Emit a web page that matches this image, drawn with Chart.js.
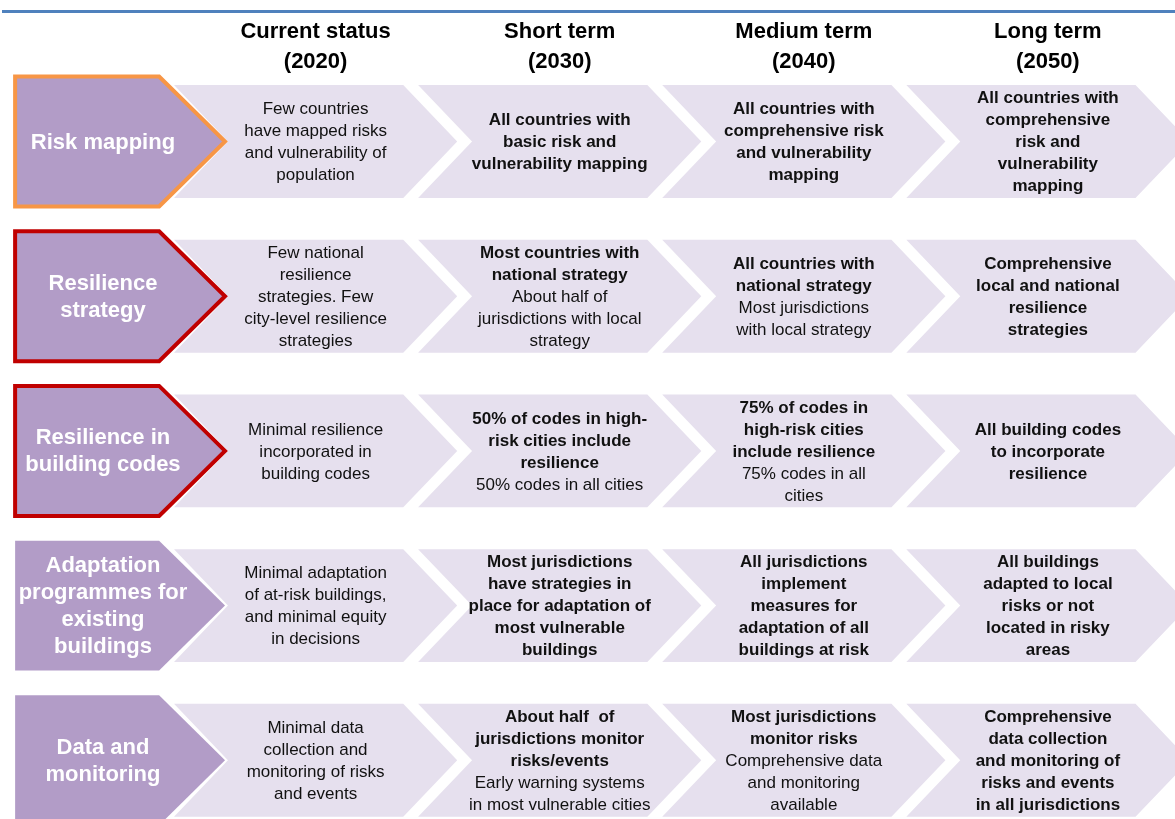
<!DOCTYPE html>
<html>
<head>
<meta charset="utf-8">
<script src="https://cdn.jsdelivr.net/npm/chart.js@4.4.1/dist/chart.umd.min.js"></script>
<style>
html,body{margin:0;padding:0;background:#ffffff;}
#wrap{width:1175px;height:819px;position:relative;}
</style>
</head>
<body>
<div id="wrap"><canvas id="c" width="1175" height="819"></canvas></div>
<script>
// ---------- DATA ----------
const stages = ['Current status\n(2020)', 'Short term\n(2030)', 'Medium term\n(2040)', 'Long term\n(2050)'];

const themes = [
  'Risk mapping',
  'Resilience\nstrategy',
  'Resilience in\nbuilding codes',
  'Adaptation\nprogrammes for\nexisting\nbuildings',
  'Data and\nmonitoring'
];

// text before "|" is bold, text after "|" is regular
const currentStatus = [
  '|Few countries\nhave mapped risks\nand vulnerability of\npopulation',
  '|Few national\nresilience\nstrategies. Few\ncity-level resilience\nstrategies',
  '|Minimal resilience\nincorporated in\nbuilding codes',
  '|Minimal adaptation\nof at-risk buildings,\nand minimal equity\nin decisions',
  '|Minimal data\ncollection and\nmonitoring of risks\nand events'
];

const shortTerm = [
  'All countries with\nbasic risk and\nvulnerability mapping|',
  'Most countries with\nnational strategy|About half of\njurisdictions with local\nstrategy',
  '50% of codes in high-\nrisk cities include\nresilience|50% codes in all cities',
  'Most jurisdictions\nhave strategies in\nplace for adaptation of\nmost vulnerable\nbuildings|',
  'About half  of\njurisdictions monitor\nrisks/events|Early warning systems\nin most vulnerable cities'
];

const mediumTerm = [
  'All countries with\ncomprehensive risk\nand vulnerability\nmapping|',
  'All countries with\nnational strategy|Most jurisdictions\nwith local strategy',
  '75% of codes in\nhigh-risk cities\ninclude resilience|75% codes in all\ncities',
  'All jurisdictions\nimplement\nmeasures for\nadaptation of all\nbuildings at risk|',
  'Most jurisdictions\nmonitor risks|Comprehensive data\nand monitoring\navailable'
];

const longTerm = [
  'All countries with\ncomprehensive\nrisk and\nvulnerability\nmapping|',
  'Comprehensive\nlocal and national\nresilience\nstrategies|',
  'All building codes\nto incorporate\nresilience|',
  'All buildings\nadapted to local\nrisks or not\nlocated in risky\nareas|',
  'Comprehensive\ndata collection\nand monitoring of\nrisks and events\nin all jurisdictions|'
];

const stageCells = [currentStatus, shortTerm, mediumTerm, longTerm];

// ---------- LAYOUT / STYLE (not data) ----------
const FONT = "'Liberation Sans', Arial, Helvetica, sans-serif";
const LIGHT = '#e6e0ee';
const PURPLE = '#b29cc7';
const RULE = '#4f81bd';
const themeBorders = ['#f79646', '#c00000', '#c00000', null, null];
const HEADER_ROW = -0.61;     // header row position on the y scale
const THEME_COL = 0.199;      // theme column position on the x scale
const CELL = {halfW: 0.58, depth: 0.221, halfH: 0.365};
const THEME = {halfW: 0.43, depth: 0.27, halfH: 0.42, textShift: -0.07};

// ---------- DATASETS ----------
const datasets = stageCells.map((cells, k) => ({
  label: stages[k],
  kind: 'stage',
  data: cells.map((t, r) => ({x: k + 1, y: r, text: t})),
  pointRadius: 0, pointHoverRadius: 0
}));
datasets.push({
  label: 'Themes',
  kind: 'theme',
  data: themes.map((t, r) => ({x: THEME_COL, y: r, text: t, border: themeBorders[r]})),
  pointRadius: 0, pointHoverRadius: 0
});

function chevron(ctx, L, R, T, B, d, notch) {
  const m = (T + B) / 2;
  ctx.beginPath();
  ctx.moveTo(L, T);
  ctx.lineTo(R - d, T);
  ctx.lineTo(R, m);
  ctx.lineTo(R - d, B);
  ctx.lineTo(L, B);
  if (notch) ctx.lineTo(L + d, m);
  ctx.closePath();
}

function drawLines(ctx, lines, cx, cy, lh) {
  const top = cy - (lines.length - 1) * lh / 2;
  lines.forEach((ln, i) => {
    ctx.font = (ln.bold ? 'bold ' : '') + ln.size + 'px ' + FONT;
    ctx.fillText(ln.t, cx, top + i * lh);
  });
}

const roadmap = {
  id: 'roadmap',
  beforeDraw(chart) {
    const ctx = chart.ctx;
    ctx.save();
    ctx.fillStyle = '#ffffff';
    ctx.fillRect(0, 0, chart.width, chart.height);
    ctx.fillStyle = RULE;
    ctx.fillRect(2, 10, chart.width - 2, 3);
    ctx.restore();
  },
  afterDatasetsDraw(chart) {
    const ctx = chart.ctx;
    const xs = chart.scales.x, ys = chart.scales.y;
    const ux = xs.getPixelForValue(1) - xs.getPixelForValue(0);
    const uy = ys.getPixelForValue(1) - ys.getPixelForValue(0);
    ctx.save();
    ctx.textAlign = 'center';
    ctx.textBaseline = 'middle';
    chart.data.datasets.forEach((ds, di) => {
      const meta = chart.getDatasetMeta(di);
      if (ds.kind === 'stage') {
        const hx = meta.data[0].x;
        const hy = ys.getPixelForValue(HEADER_ROW);
        ctx.fillStyle = '#000000';
        drawLines(ctx, ds.label.split('\n').map(t => ({t, bold: true, size: 22})), hx, hy, 30);
        meta.data.forEach((el, i) => {
          const raw = ds.data[i];
          const L = el.x - CELL.halfW * ux, R = el.x + CELL.halfW * ux;
          const T = el.y - CELL.halfH * uy, B = el.y + CELL.halfH * uy;
          chevron(ctx, L, R, T, B, CELL.depth * ux, true);
          ctx.fillStyle = LIGHT;
          ctx.fill();
          const parts = raw.text.split('|');
          const lines = [];
          if (parts[0]) parts[0].split('\n').forEach(t => lines.push({t, bold: true, size: 17}));
          if (parts[1]) parts[1].split('\n').forEach(t => lines.push({t, bold: false, size: 17}));
          ctx.fillStyle = '#111111';
          drawLines(ctx, lines, el.x, el.y + 1, 22);
        });
      } else {
        meta.data.forEach((el, i) => {
          const raw = ds.data[i];
          const L = el.x - THEME.halfW * ux, R = el.x + THEME.halfW * ux;
          const T = el.y - THEME.halfH * uy, B = el.y + THEME.halfH * uy;
          chevron(ctx, L, R, T, B, THEME.depth * ux, false);
          ctx.fillStyle = PURPLE;
          ctx.fill();
          if (raw.border) {
            ctx.lineWidth = 4;
            ctx.lineJoin = 'miter';
            ctx.strokeStyle = raw.border;
            ctx.stroke();
          }
          ctx.fillStyle = '#ffffff';
          const lines = raw.text.split('\n').map(t => ({t, bold: true, size: 22}));
          drawLines(ctx, lines, el.x + THEME.textShift * ux, el.y + 1, 27);
        });
      }
    });
    ctx.restore();
  }
};

new Chart(document.getElementById('c'), {
  type: 'scatter',
  data: {datasets},
  options: {
    responsive: false,
    animation: false,
    events: [],
    layout: {padding: 0},
    plugins: {legend: {display: false}, title: {display: false}, tooltip: {enabled: false}},
    scales: {
      x: {type: 'linear', min: -0.2929, max: 4.5207, display: false},
      y: {type: 'linear', min: -0.9147, max: 4.3794, reverse: true, display: false}
    }
  },
  plugins: [roadmap]
});
</script>
</body>
</html>
